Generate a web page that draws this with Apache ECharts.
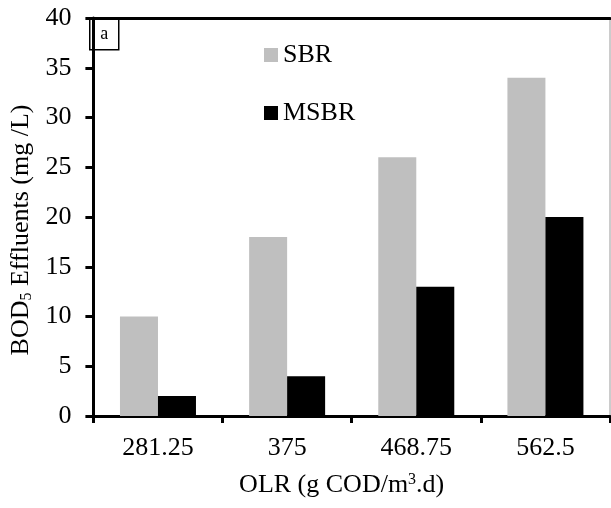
<!DOCTYPE html>
<html>
<head>
<meta charset="utf-8">
<script src="https://cdn.jsdelivr.net/npm/echarts@6/dist/echarts.min.js"></script>
<style>
  html, body { margin: 0; padding: 0; background: #fff; }
  #chart { width: 611px; height: 508px; }
</style>
</head>
<body>
<div id="chart"></div>
<script>
// OLR categories and BOD5 effluent values (mg/L)
var olrLabels = ['281.25', '375', '468.75', '562.5'];
var sbrValues = [10, 18, 26, 34];
var msbrValues = [2, 4, 13, 20];

var chart = echarts.init(document.getElementById('chart'));
var font = 'Liberation Serif';

var option = {
  backgroundColor: '#fff',
  animation: false,
  textStyle: { fontFamily: font, color: '#000' },
  grid: {
    left: 88, right: 1, top: 18, bottom: 92,
    show: true, borderColor: '#999', borderWidth: 1
  },
  legend: {
    orient: 'vertical',
    left: 259,
    top: 37,
    itemWidth: 14,
    itemHeight: 14,
    itemGap: 32,
    icon: 'rect',
    textStyle: { fontFamily: font, fontSize: 26, color: '#000', lineHeight: 26 },
    data: ['SBR', 'MSBR']
  },
  xAxis: [{
    type: 'category',
    data: olrLabels,
    axisLine: { lineStyle: { color: '#000', width: 3 } },
    axisTick: { show: true, length: 7, lineStyle: { color: '#000', width: 3 } },
    axisLabel: { fontFamily: font, fontSize: 26, color: '#000', margin: 19 },
    name: 'OLR (g COD/m{sup|3}.d)',
    nameLocation: 'middle',
    nameGap: 56,
    nameTextStyle: {
      fontFamily: font, fontSize: 26, color: '#000',
      padding: [0, 20, 0, 0],
      rich: { sup: { fontFamily: font, fontSize: 16, color: '#000', verticalAlign: 'top', padding: [0, 0, 9, 0] } }
    }
  }, {
    type: 'category',
    position: 'top',
    data: olrLabels,
    axisLine: { lineStyle: { color: '#000', width: 3 } },
    axisTick: { show: false },
    axisLabel: { show: false }
  }],
  yAxis: {
    type: 'value',
    min: 0, max: 40, interval: 5,
    axisLine: { show: true, lineStyle: { color: '#000', width: 3 } },
    axisTick: { show: true, length: 8, lineStyle: { color: '#000', width: 3 } },
    splitLine: { show: false },
    axisLabel: { fontFamily: font, fontSize: 26, color: '#000', margin: 22 },
    name: 'BOD{sub|5} Effluents (mg /L)',
    nameLocation: 'middle',
    nameRotate: 90,
    nameGap: 57,
    nameTextStyle: {
      fontFamily: font, fontSize: 26, color: '#000',
      padding: [0, 26, 0, 0],
      rich: { sub: { fontFamily: font, fontSize: 16, color: '#000', verticalAlign: 'bottom', padding: [11, 0, 0, 0] } }
    }
  },
  graphic: [{
    type: 'group',
    left: 89, top: 18,
    children: [{
      type: 'rect',
      shape: { x: 0, y: 0, width: 29, height: 31 },
      style: { fill: '#fff', stroke: '#000', lineWidth: 1.5 }
    }, {
      type: 'text',
      x: 14.5, y: 16,
      style: { text: 'a', font: '18px "Liberation Serif"', fill: '#000', align: 'center', verticalAlign: 'middle' }
    }]
  }],
  series: [{
    name: 'SBR',
    type: 'bar',
    data: sbrValues,
    barWidth: 38,
    barGap: '0%',
    itemStyle: { color: '#bfbfbf' }
  }, {
    name: 'MSBR',
    type: 'bar',
    data: msbrValues,
    barWidth: 38,
    barGap: '0%',
    itemStyle: { color: '#000' }
  }]
};

chart.setOption(option);
</script>
</body>
</html>
